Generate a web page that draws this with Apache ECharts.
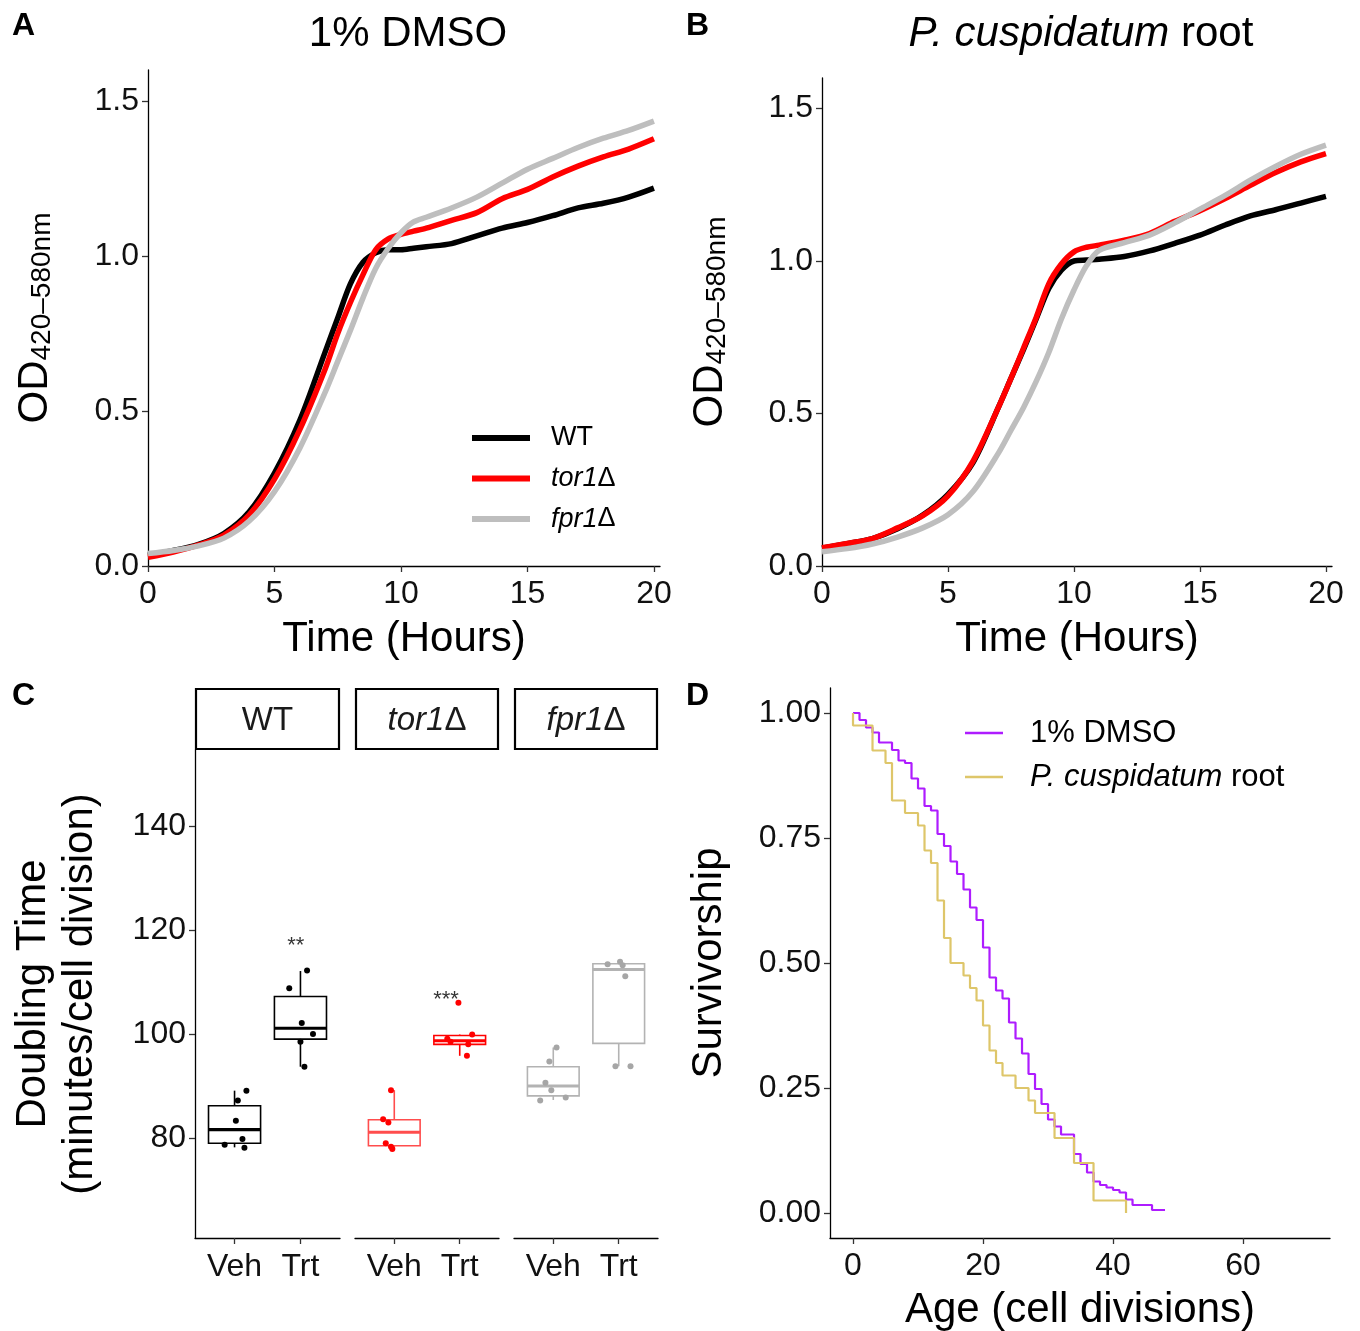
<!DOCTYPE html>
<html><head><meta charset="utf-8">
<script src="https://cdn.jsdelivr.net/npm/echarts@6/dist/echarts.min.js"></script>
<style>html,body{margin:0;padding:0;background:#fff}#c{width:1360px;height:1331px}</style>
</head><body><div id="c"></div>
<script>
// ---------- Panel A / B : growth curves ----------
const hours = [0,1,2,3,4,5,6,7,7.5,8,8.5,9,9.5,10,10.5,11,12,13,14,15,16,17,18,19,20];
const dmsoWT   = [0.035,0.05,0.07,0.105,0.175,0.30,0.47,0.69,0.80,0.91,0.98,1.01,1.02,1.02,1.025,1.03,1.04,1.065,1.09,1.108,1.13,1.155,1.17,1.19,1.219];
const dmsoTor1 = [0.028,0.045,0.068,0.10,0.165,0.28,0.44,0.635,0.75,0.85,0.94,1.02,1.055,1.07,1.08,1.09,1.115,1.14,1.185,1.215,1.255,1.29,1.32,1.345,1.378];
const dmsoFpr1 = [0.04,0.05,0.065,0.09,0.145,0.24,0.38,0.56,0.66,0.76,0.865,0.96,1.025,1.075,1.11,1.125,1.155,1.19,1.235,1.28,1.315,1.35,1.38,1.405,1.435];
const cuspWT   = [0.058,0.073,0.09,0.122,0.167,0.235,0.34,0.52,0.615,0.71,0.81,0.91,0.97,1.0,1.003,1.006,1.015,1.033,1.058,1.085,1.118,1.148,1.168,1.19,1.212];
const cuspTor1 = [0.06,0.074,0.09,0.125,0.165,0.23,0.345,0.52,0.615,0.715,0.815,0.925,0.99,1.03,1.045,1.052,1.068,1.09,1.13,1.165,1.205,1.248,1.29,1.325,1.352];
const cuspFpr1 = [0.047,0.057,0.072,0.095,0.125,0.168,0.245,0.37,0.445,0.52,0.605,0.70,0.81,0.905,0.985,1.035,1.06,1.085,1.125,1.17,1.215,1.265,1.31,1.35,1.38];
const growthTicksX = [0,5,10,15,20];
const growthTicksY = [0,0.5,1.0,1.5];
const strainNames = ['WT','tor1Δ','fpr1Δ'];

// ---------- Panel C : doubling time ----------
const treatments = ['Veh','Trt'];
// [lower whisker, Q1, median, Q3, upper whisker]
const boxWT   = [[78.2,79.0,81.6,86.2,89.1],[93.7,99.0,101.1,107.2,112.1]];
const boxTor1 = [[77.9,78.5,81.1,83.5,89.2],[95.8,98.0,98.7,99.7,99.9]];
const boxFpr1 = [[87.3,88.1,90.0,93.7,97.4],[93.8,98.2,112.4,113.5,113.9]];
const ptsWT   = [[89.1,87.2,83.3,79.8,78.7,78.1],[112.2,108.8,102.1,100.0,98.5,93.7]];
const ptsTor1 = [[89.2,83.6,83.0,79.0,78.3,77.9],[106.0,99.9,99.1,98.5,98.0,95.8]];
const ptsFpr1 = [[97.4,94.7,90.6,89.2,87.2,87.8],[113.4,113.9,113.2,111.1,93.8,93.8]];
// horizontal jitter of the points as seen in the figure (category units)
const jitWT   = [[0.18,0.05,0.02,0.12,-0.15,0.15],[0.10,-0.17,0.02,0.19,0.0,0.06]];
const jitTor1 = [[-0.05,-0.17,-0.09,-0.13,-0.05,-0.03],[-0.02,0.19,-0.19,-0.14,0.13,0.11]];
const jitFpr1 = [[0.05,-0.06,-0.12,-0.03,-0.20,0.19],[-0.17,0.02,0.06,0.10,-0.05,0.18]];
const doublingTicks = [80,100,120,140];
const significance = [{strain:'WT', x:1.93, y:116.9, text:'**'}, {strain:'tor1Δ', x:1.79, y:106.6, text:'***'}];

// ---------- Panel D : survivorship ----------
const ageDMSO  = [0,1,2,3,4,6,7,8,9,10,11,12,13,14,15,16,17,18,19,20,21,22,23,24,25,26,27,28,29,30,31,32,34,35,36,37,38,39,40,41,42,43,46,48];
const survDMSO = [1,0.986,0.971,0.961,0.941,0.926,0.905,0.9,0.869,0.849,0.814,0.805,0.758,0.734,0.703,0.678,0.647,0.611,0.586,0.531,0.471,0.445,0.429,0.381,0.349,0.319,0.278,0.248,0.218,0.187,0.173,0.157,0.118,0.098,0.081,0.063,0.056,0.051,0.046,0.041,0.027,0.016,0.006,0.006];
const agePC    = [0,0,3,5,6,8,10,11,12,13,14,15,17,18,19,20,21,22,23,25,27,28,31,34,37,42];
const survPC   = [1,0.975,0.925,0.9,0.825,0.8,0.775,0.725,0.7,0.625,0.55,0.5,0.475,0.45,0.425,0.375,0.325,0.3,0.275,0.25,0.225,0.2,0.15,0.1,0.025,0];
const survTicksX = [0,20,40,60];
const survTicksY = [0,0.25,0.5,0.75,1.0];
const survNames = ['1% DMSO','P. cuspidatum root'];

// ---------- build ----------
const F = '"Liberation Sans", Arial, Helvetica, sans-serif';
const BLACK = '#000000', RED = '#FF0000', GREY = '#BEBEBE';
const PURPLE = '#AE1CFF', GOLD = '#DEC66A';

const pairs = (xs, ys) => xs.map((x, i) => [x, ys[i]]);
const axLine = {show:true, onZero:false, lineStyle:{color:'#000', width:1.3}};
const axTick = (vals) => ({show:true, length:6, inside:false, customValues: vals, lineStyle:{color:'#333', width:1.3}});
const axLabel = (vals, fmt, extra) => Object.assign({show:true, customValues: vals, formatter: fmt, color:'#111', fontSize:32, fontFamily:F, margin:9}, extra||{});
const nameStyle = {color:'#000', fontSize:42, fontFamily:F};

function growthLine(name, xs, ys, color, axis) {
  return {type:'line', name, xAxisIndex:axis, yAxisIndex:axis, data:pairs(xs, ys), color,
    showSymbol:false, smooth:0.3, lineStyle:{color, width:5.5}, emphasis:{disabled:true}, z:3};
}
function boxRenderer(colors) {
  return function(params, api) {
    const x = api.value(0);
    const lo = api.coord([x, api.value(1)]);
    const q1 = api.coord([x, api.value(2)]);
    const md = api.coord([x, api.value(3)]);
    const q3 = api.coord([x, api.value(4)]);
    const hi = api.coord([x, api.value(5)]);
    const w = api.size([0.79, 0])[0];
    const c = colors[params.dataIndex];
    return {type:'group', children:[
      {type:'line', shape:{x1:lo[0], y1:lo[1], x2:q1[0], y2:q1[1]}, style:{stroke:c, lineWidth:1.6}},
      {type:'line', shape:{x1:q3[0], y1:q3[1], x2:hi[0], y2:hi[1]}, style:{stroke:c, lineWidth:1.6}},
      {type:'rect', shape:{x:q1[0]-w/2, y:q3[1], width:w, height:q1[1]-q3[1]}, style:{fill:'#fff', stroke:c, lineWidth:1.6}},
      {type:'line', shape:{x1:md[0]-w/2, y1:md[1], x2:md[0]+w/2, y2:md[1]}, style:{stroke:c, lineWidth:3.2}}
    ]};
  };
}
function boxSeries(boxes, colors, axis) {
  return {type:'custom', xAxisIndex:axis, yAxisIndex:axis, renderItem: boxRenderer(colors),
    data: boxes.map((b, t) => [t + 1].concat(b)), encode:{x:0, y:[1,2,3,4,5]}, z:2, silent:true};
}
function pointSeries(pts, jit, color, axis) {
  const data = [];
  pts.forEach((arr, t) => arr.forEach((v, k) => data.push([t + 1 + jit[t][k], v])));
  return {type:'scatter', xAxisIndex:axis, yAxisIndex:axis, data, symbolSize:6,
    itemStyle:{color, opacity:1}, z:4, silent:true};
}
function starSeries(s, axis) {
  return {type:'scatter', xAxisIndex:axis, yAxisIndex:axis, data:[[s.x, s.y]], symbol:'circle', symbolSize:1,
    itemStyle:{color:'rgba(255,255,255,0)'}, z:5, silent:true,
    label:{show:true, position:'inside', formatter:s.text, color:'#000', fontSize:22, fontFamily:F}};
}

const legendRich = (size, pad) => ({
  a:{fontSize:size, fontFamily:F, color:'#000', padding:[0,0,0,pad]},
  ai:{fontSize:size, fontFamily:F, color:'#000', fontStyle:'italic', padding:[0,0,0,pad]},
  n:{fontSize:size, fontFamily:F, color:'#000'},
  i:{fontSize:size, fontFamily:F, color:'#000', fontStyle:'italic'}
});
const letterStyle = {fontSize:32, fontWeight:'bold', fontFamily:F, color:'#000'};

const gridBase = {containLabel:false, outerBoundsMode:'none', show:false};
const option = {
  animation:false,
  backgroundColor:'#fff',
  textStyle:{fontFamily:F},
  title:[
    {text:'A', left:7, top:5, textStyle:letterStyle},
    {text:'B', left:681, top:5, textStyle:letterStyle},
    {text:'C', left:7, top:675, textStyle:letterStyle},
    {text:'D', left:681, top:675, textStyle:letterStyle},
    {text:'1% DMSO', left:403, top:8, textAlign:'center', textStyle:{fontSize:42, fontWeight:'normal', fontFamily:F, color:'#000'}},
    {text:'{i|P. cuspidatum} root', left:1076, top:8, textAlign:'center',
      textStyle:{fontSize:42, fontWeight:'normal', fontFamily:F, color:'#000',
        rich:{i:{fontSize:42, fontStyle:'italic', fontFamily:F, color:'#000'}}}}
  ],
  grid:[
    Object.assign({left:148, top:70, width:512, height:496}, gridBase),
    Object.assign({left:822, top:78, width:510, height:488}, gridBase),
    Object.assign({left:195, top:750, width:145, height:488}, gridBase),
    Object.assign({left:355, top:750, width:144, height:488}, gridBase),
    Object.assign({left:514, top:750, width:144, height:488}, gridBase),
    Object.assign({left:830, top:688, width:500, height:550}, gridBase)
  ],
  xAxis:[
    {type:'value', gridIndex:0, min:0, max:20.24, axisLine:axLine, axisTick:axTick(growthTicksX), axisLabel:axLabel(growthTicksX, v => String(v), {margin:12}), splitLine:{show:false},
      name:'Time (Hours)', nameLocation:'middle', nameGap:52, nameTextStyle:nameStyle, nameMoveOverlap:false},
    {type:'value', gridIndex:1, min:0, max:20.24, axisLine:axLine, axisTick:axTick(growthTicksX), axisLabel:axLabel(growthTicksX, v => String(v), {margin:12}), splitLine:{show:false},
      name:'Time (Hours)', nameLocation:'middle', nameGap:52, nameTextStyle:nameStyle, nameMoveOverlap:false},
    {type:'value', gridIndex:2, min:0.4, max:2.6, axisLine:axLine, axisTick:axTick([1,2]), axisLabel:axLabel([1,2], v => treatments[Math.round(v)-1], {margin:13}), splitLine:{show:false}},
    {type:'value', gridIndex:3, min:0.4, max:2.6, axisLine:axLine, axisTick:axTick([1,2]), axisLabel:axLabel([1,2], v => treatments[Math.round(v)-1], {margin:13}), splitLine:{show:false}},
    {type:'value', gridIndex:4, min:0.4, max:2.6, axisLine:axLine, axisTick:axTick([1,2]), axisLabel:axLabel([1,2], v => treatments[Math.round(v)-1], {margin:13}), splitLine:{show:false}},
    {type:'value', gridIndex:5, min:-3.54, max:73.38, axisLine:axLine, axisTick:axTick(survTicksX), axisLabel:axLabel(survTicksX, v => String(v), {margin:12}), splitLine:{show:false},
      name:'Age (cell divisions)', nameLocation:'middle', nameGap:51, nameTextStyle:nameStyle, nameMoveOverlap:false}
  ],
  yAxis:[
    {type:'value', gridIndex:0, min:0, max:1.6, axisLine:axLine, axisTick:axTick(growthTicksY), axisLabel:axLabel(growthTicksY, v => v.toFixed(1)), splitLine:{show:false},
      name:'{a|OD}{s|420–580nm}', nameLocation:'middle', nameGap:92, nameMoveOverlap:false,
      nameTextStyle:{color:'#000', fontFamily:F, rich:{a:{fontSize:42, fontFamily:F, color:'#000', lineHeight:46, verticalAlign:'bottom'}, s:{fontSize:28, fontFamily:F, color:'#000', lineHeight:16, verticalAlign:'bottom'}}}},
    {type:'value', gridIndex:1, min:0, max:1.6, axisLine:axLine, axisTick:axTick(growthTicksY), axisLabel:axLabel(growthTicksY, v => v.toFixed(1)), splitLine:{show:false},
      name:'{a|OD}{s|420–580nm}', nameLocation:'middle', nameGap:91, nameMoveOverlap:false,
      nameTextStyle:{color:'#000', fontFamily:F, rich:{a:{fontSize:42, fontFamily:F, color:'#000', lineHeight:46, verticalAlign:'bottom'}, s:{fontSize:28, fontFamily:F, color:'#000', lineHeight:16, verticalAlign:'bottom'}}}},
    {type:'value', gridIndex:2, min:60.77, max:154.6, axisLine:axLine, axisTick:axTick(doublingTicks), axisLabel:axLabel(doublingTicks, v => String(v)), splitLine:{show:false},
      name:'Doubling Time\n(minutes/cell division)', nameLocation:'middle', nameGap:91, nameMoveOverlap:false,
      nameTextStyle:{color:'#000', fontSize:42, fontFamily:F, lineHeight:47}},
    {type:'value', gridIndex:3, min:60.77, max:154.6, show:false},
    {type:'value', gridIndex:4, min:60.77, max:154.6, show:false},
    {type:'value', gridIndex:5, min:-0.05, max:1.05, axisLine:axLine, axisTick:axTick(survTicksY), axisLabel:axLabel(survTicksY, v => v.toFixed(2)), splitLine:{show:false},
      name:'Survivorship', nameLocation:'middle', nameGap:100, nameMoveOverlap:false, nameTextStyle:nameStyle}
  ],
  legend:[
    {data:strainNames, orient:'vertical', left:467, top:417, itemWidth:58, itemHeight:6, itemGap:8.5, icon:'rect',
      selectedMode:false, textStyle:{fontSize:27, fontFamily:F, color:'#000', lineHeight:32, rich:legendRich(27, 16)},
      formatter: n => n === 'WT' ? '{a|WT}' : '{ai|' + n.slice(0, -1) + '}{n|Δ}'},
    {data:survNames, orient:'vertical', left:960, top:710, itemWidth:38, itemHeight:2.5, itemGap:8, icon:'rect',
      selectedMode:false, textStyle:{fontSize:31, fontFamily:F, color:'#000', lineHeight:36, rich:legendRich(31, 22)},
      formatter: n => n === '1% DMSO' ? '{a|1% DMSO}' : '{ai|P. cuspidatum}{n| root}'}
  ],
  graphic:[
    {type:'rect', shape:{x:196, y:689, width:143, height:60}, style:{fill:'#fff', stroke:'#000', lineWidth:2.2}},
    {type:'rect', shape:{x:356, y:689, width:142, height:60}, style:{fill:'#fff', stroke:'#000', lineWidth:2.2}},
    {type:'rect', shape:{x:515, y:689, width:142, height:60}, style:{fill:'#fff', stroke:'#000', lineWidth:2.2}},
    {type:'text', x:267.5, y:721, style:{text:'WT', align:'center', verticalAlign:'middle', fontSize:33, fontFamily:F, fill:'#1a1a1a'}},
    {type:'text', x:427, y:721, style:{text:'{i|tor1}{n|Δ}', align:'center', verticalAlign:'middle', fontSize:33, fontFamily:F, fill:'#1a1a1a',
      rich:{i:{fontSize:33, fontFamily:F, fontStyle:'italic', fill:'#1a1a1a'}, n:{fontSize:33, fontFamily:F, fill:'#1a1a1a'}}}},
    {type:'text', x:586, y:721, style:{text:'{i|fpr1}{n|Δ}', align:'center', verticalAlign:'middle', fontSize:33, fontFamily:F, fill:'#1a1a1a',
      rich:{i:{fontSize:33, fontFamily:F, fontStyle:'italic', fill:'#1a1a1a'}, n:{fontSize:33, fontFamily:F, fill:'#1a1a1a'}}}}
  ],
  series:[
    growthLine('WT', hours, dmsoWT, BLACK, 0),
    growthLine('tor1Δ', hours, dmsoTor1, RED, 0),
    growthLine('fpr1Δ', hours, dmsoFpr1, GREY, 0),
    growthLine('WT', hours, cuspWT, BLACK, 1),
    growthLine('tor1Δ', hours, cuspTor1, RED, 1),
    growthLine('fpr1Δ', hours, cuspFpr1, GREY, 1),
    boxSeries(boxWT, ['#000000','#000000'], 2),
    pointSeries(ptsWT, jitWT, '#000000', 2),
    boxSeries(boxTor1, ['#FF4D4D','#FF0000'], 3),
    pointSeries(ptsTor1, jitTor1, '#FF0000', 3),
    boxSeries(boxFpr1, ['#B3B3B3','#B3B3B3'], 4),
    pointSeries(ptsFpr1, jitFpr1, '#A6A6A6', 4),
    starSeries(significance[0], 2),
    starSeries(significance[1], 3),
    {type:'line', name:'1% DMSO', xAxisIndex:5, yAxisIndex:5, data:pairs(ageDMSO, survDMSO), step:'end', color:PURPLE,
      showSymbol:false, lineStyle:{color:PURPLE, width:2.2}, emphasis:{disabled:true}, z:3},
    {type:'line', name:'P. cuspidatum root', xAxisIndex:5, yAxisIndex:5, data:pairs(agePC, survPC), step:'end', color:GOLD,
      showSymbol:false, lineStyle:{color:GOLD, width:2.2}, emphasis:{disabled:true}, z:3}
  ]
};
const chart = echarts.init(document.getElementById('c'));
chart.setOption(option);
</script>
</body></html>
